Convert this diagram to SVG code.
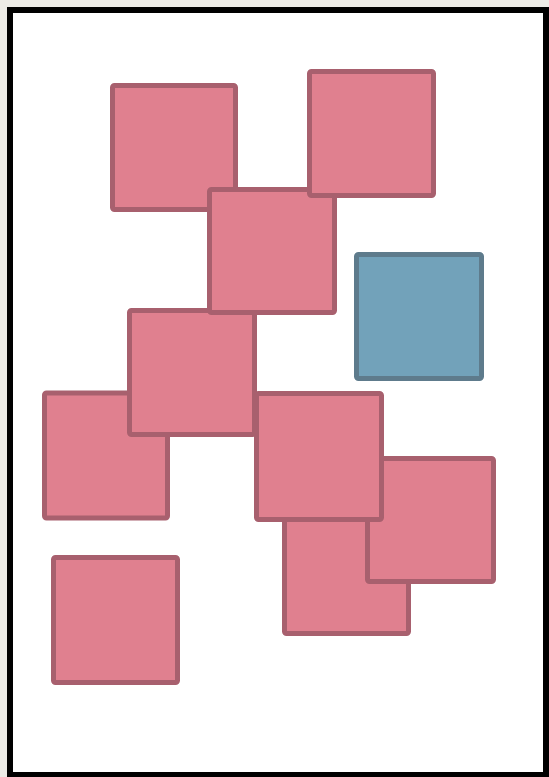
<svg xmlns="http://www.w3.org/2000/svg" width="549" height="777" viewBox="0 0 549 777">
<style>
.sq{fill:#e0808f;stroke:#a8606e;stroke-width:5;stroke-linejoin:round}
.bl{fill:#72a2ba;stroke:#5e7b8c;stroke-width:5;stroke-linejoin:round}
</style>
<rect x="0" y="0" width="549" height="777" fill="#ecebe6"/>
<rect x="10" y="10" width="536" height="765" fill="#ffffff" stroke="#000000" stroke-width="6"/>
<g id="sqA"><rect class="sq" x="112.5" y="85.5" width="123" height="124" rx="2"/></g>
<g id="sqF"><rect class="sq" x="44.5" y="393" width="123" height="125" rx="2"/></g>
<g id="sqE"><rect class="sq" x="129.5" y="310.5" width="125" height="124" rx="2"/></g>
<g id="sqC"><rect class="sq" x="209.5" y="189.5" width="125" height="123" rx="2"/></g>
<g id="sqB"><rect class="sq" x="309.5" y="71.5" width="124" height="124" rx="2"/></g>
<g id="sqD"><rect class="bl" x="356.5" y="254.5" width="125" height="124" rx="2"/></g>
<g id="sqH"><rect class="sq" x="284.5" y="509.5" width="124" height="124" rx="2"/></g>
<g id="sqI"><rect class="sq" x="367.5" y="458.5" width="126" height="123" rx="2"/></g>
<g id="sqG"><rect class="sq" x="256.5" y="393.5" width="125" height="126" rx="2"/></g>
<g id="sqJ"><rect class="sq" x="53.5" y="557.5" width="124" height="125" rx="2"/></g>
<g id="connectors"></g>
</svg>
